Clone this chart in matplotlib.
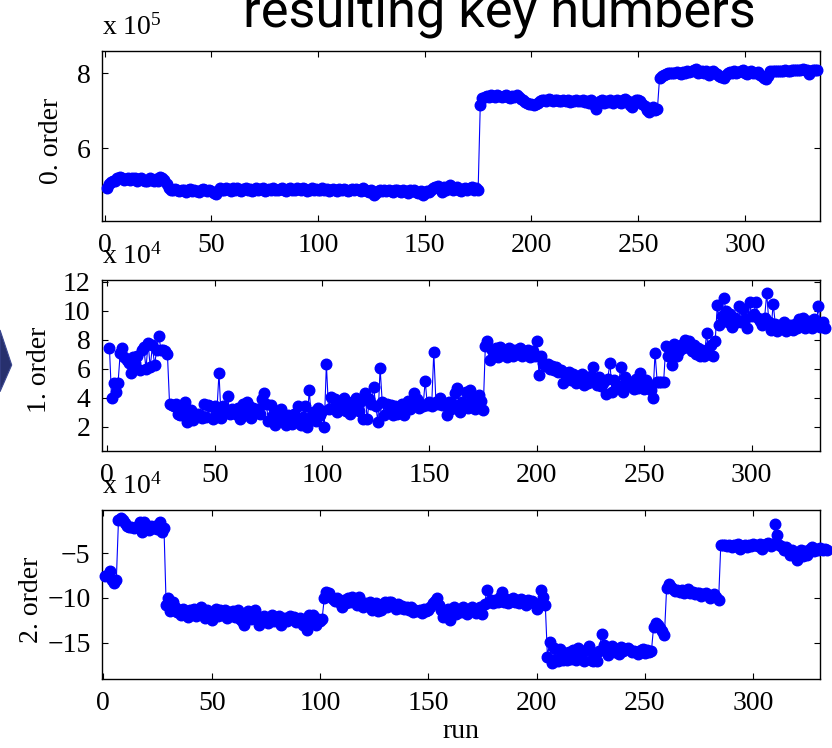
import matplotlib
matplotlib.use('Agg')
import matplotlib.pyplot as plt
import numpy as np
from matplotlib.patches import Polygon
from matplotlib import font_manager
from matplotlib.font_manager import FontProperties
from matplotlib.textpath import TextPath

# values (units: 1e5 for order 0, 1e4 for orders 1 and 2)
order0 = [
    4.93, 5.05, 5.10, 5.12, 5.14, 5.22, 5.24, 5.22, 5.16, 5.18,
    5.22, 5.16, 5.20, 5.22, 5.12, 5.18, 5.20, 5.16, 5.14, 5.12,
    5.20, 5.16, 5.14, 5.18, 5.12, 5.24, 5.20, 5.15, 5.05, 4.93,
    4.90, 4.88, 4.91, 4.89, 4.86, 4.90, 4.88, 4.84, 4.89, 4.91,
    4.86, 4.90, 4.87, 4.84, 4.90, 4.92, 4.88, 4.86, 4.90, 4.85,
    4.82, 4.79, 4.86, 4.93, 4.90, 4.88, 4.94, 4.91, 4.87, 4.93,
    4.90, 4.94, 4.88, 4.86, 4.91, 4.94, 4.89, 4.92, 4.86, 4.90,
    4.93, 4.88, 4.91, 4.95, 4.87, 4.90, 4.92, 4.89, 4.94, 4.90,
    4.88, 4.92, 4.95, 4.90, 4.87, 4.91, 4.94, 4.90, 4.88, 4.93,
    4.92, 4.89, 4.94, 4.91, 4.87, 4.90, 4.93, 4.89, 4.91, 4.88,
    4.90, 4.93, 4.88, 4.91, 4.86, 4.90, 4.92, 4.89, 4.87, 4.91,
    4.88, 4.92, 4.90, 4.86, 4.89, 4.91, 4.88, 4.92, 4.90, 4.87,
    4.93, 4.89, 4.86, 4.84, 4.88, 4.75, 4.82, 4.87, 4.90, 4.86,
    4.88, 4.85, 4.89, 4.87, 4.84, 4.88, 4.90, 4.86, 4.83, 4.89,
    4.86, 4.82, 4.88, 4.85, 4.90, 4.84, 4.80, 4.86, 4.76, 4.82,
    4.86, 4.84, 4.90, 4.94, 4.98, 5.00, 4.92, 4.84, 4.96, 4.90,
    4.98, 5.02, 4.88, 4.94, 4.97, 4.90, 4.86, 4.92, 4.95, 4.90,
    4.94, 4.96, 4.90, 4.95, 4.89, 7.16, 7.34, 7.38, 7.40, 7.38,
    7.42, 7.40, 7.38, 7.41, 7.39, 7.36, 7.40, 7.42, 7.38, 7.35,
    7.40, 7.38, 7.41, 7.37, 7.32, 7.28, 7.24, 7.20, 7.17, 7.18,
    7.16, 7.18, 7.22, 7.25, 7.28, 7.30, 7.26, 7.31, 7.29, 7.25,
    7.28, 7.30, 7.27, 7.26, 7.29, 7.25, 7.28, 7.24, 7.27, 7.26,
    7.29, 7.25, 7.27, 7.30, 7.24, 7.26, 7.22, 7.28, 7.18, 7.06,
    7.22, 7.26, 7.30, 7.20, 7.27, 7.24, 7.28, 7.22, 7.26, 7.30,
    7.24, 7.20, 7.28, 7.31, 7.26, 7.15, 7.10, 7.22, 7.30, 7.28,
    7.25, 7.18, 7.14, 7.02, 6.96, 7.06, 7.10, 7.02, 7.04, 7.87,
    7.92, 7.96, 7.99, 8.00, 8.01, 8.00, 8.02, 8.03, 8.00, 7.98,
    8.04, 8.02, 8.05, 8.03, 8.06, 8.10, 8.12, 8.02, 8.04, 8.06,
    8.00, 8.05, 7.96, 8.03, 8.06, 8.02, 7.98, 7.94, 7.90, 7.88,
    7.96, 8.00, 8.03, 8.02, 8.05, 8.00, 8.04, 8.06, 8.10, 8.02,
    7.98, 8.04, 8.06, 8.02, 8.00, 8.03, 7.96, 7.92, 7.88, 7.84,
    7.94, 8.05, 8.06, 8.05, 8.07, 8.06, 8.05, 8.06, 8.08, 8.07,
    8.06, 8.09, 8.10, 8.08, 8.10, 8.09, 8.11, 8.08, 8.10, 7.97,
    8.06, 8.10, 8.09, 8.08,
]

order1 = [
    7.45, 3.95, 5.00, 4.40, 5.00, 7.05, 7.45, 6.80, 6.60, 6.40,
    5.70, 6.80, 6.40, 6.90, 5.90, 7.30, 7.50, 6.00, 7.75, 6.10,
    7.60, 6.25, 7.30, 8.25, 7.30, 7.30, 7.20, 7.00, 3.55, 3.50,
    3.40, 3.60, 2.90, 2.80, 3.15, 3.70, 2.35, 2.70, 3.15, 2.45,
    2.80, 2.90, 2.80, 2.60, 3.55, 2.70, 3.50, 3.40, 2.50, 3.40,
    3.00, 5.70, 2.60, 3.40, 3.20, 4.15, 2.90, 3.20, 3.00, 2.90,
    3.30, 2.50, 3.60, 2.80, 3.70, 3.40, 2.60, 3.30, 3.00, 3.20,
    2.90, 3.90, 4.30, 3.60, 2.40, 3.50, 2.80, 2.10, 3.10, 2.50,
    3.20, 2.60, 2.10, 2.80, 2.50, 2.20, 2.90, 2.60, 3.40, 2.10,
    2.70, 3.45, 2.00, 4.55, 2.60, 3.00, 2.40, 3.30, 2.80, 3.10,
    2.00, 6.30, 3.20, 4.05, 3.30, 3.90, 3.00, 3.60, 3.20, 4.00,
    3.10, 3.50, 2.90, 3.70, 3.30, 4.00, 3.10, 3.80, 2.50, 4.35,
    2.50, 3.90, 3.60, 4.75, 3.40, 2.35, 6.05, 3.70, 2.80, 3.60,
    3.00, 3.50, 2.80, 3.40, 2.90, 3.20, 3.60, 2.80, 3.50, 3.80,
    3.20, 3.60, 4.30, 3.90, 3.30, 3.60, 3.40, 5.15, 3.50, 3.70,
    3.40, 7.15, 3.70, 3.60, 4.00, 3.50, 3.60, 2.80, 3.70, 3.20,
    3.60, 4.30, 4.70, 3.00, 3.70, 3.40, 4.40, 3.30, 4.50, 3.90,
    3.20, 3.60, 4.20, 3.80, 3.15, 7.55, 7.90, 6.60, 7.30, 6.90,
    7.40, 6.80, 7.50, 7.00, 7.30, 6.80, 7.40, 7.10, 6.90, 7.30,
    7.00, 7.40, 6.90, 7.20, 7.00, 7.30, 6.80, 7.20, 6.90, 7.90,
    5.55, 6.90, 6.40, 6.20, 6.30, 6.00, 6.20, 5.90, 6.10, 5.80,
    5.90, 5.00, 5.70, 5.40, 5.80, 5.20, 5.60, 5.00, 5.50, 5.10,
    5.60, 4.90, 5.40, 5.00, 5.50, 6.15, 5.30, 4.90, 5.40, 4.80,
    5.00, 4.25, 5.30, 6.40, 4.40, 5.20, 4.70, 4.80, 6.15, 4.40,
    5.40, 5.00, 4.80, 5.10, 4.60, 5.30, 4.70, 5.70, 5.00, 4.60,
    5.20, 4.80, 4.50, 3.95, 7.10, 5.10, 5.10, 5.10, 5.10, 7.55,
    6.85, 7.40, 6.25, 7.70, 6.85, 7.20, 7.60, 7.40, 8.00, 7.50,
    7.90, 7.20, 7.60, 7.00, 7.40, 6.90, 7.30, 6.85, 8.45, 7.00,
    7.60, 6.90, 7.90, 10.40, 9.00, 9.60, 10.85, 10.00, 9.20, 9.80,
    8.90, 9.50, 9.20, 10.30, 9.20, 10.10, 9.40, 8.80, 10.60, 9.60,
    9.80, 10.60, 9.50, 9.30, 9.00, 9.50, 11.20, 9.20, 8.70, 10.45,
    9.10, 8.60, 9.00, 8.80, 9.20, 8.60, 8.90, 9.00, 8.70, 9.10,
    8.80, 9.40, 9.00, 9.50, 8.80, 9.30, 9.00, 8.80, 9.40, 9.00,
    10.30, 8.90, 9.20, 8.80,
]

order2 = [
    -7.5, -7.4, -7.0, -8.0, -8.35, -8.0, -1.27, -1.1, -1.27, -1.6,
    -2.0, -2.1, -2.05, -2.15, -2.1, -2.0, -1.45, -2.6, -1.5, -2.0,
    -2.4, -1.9, -2.2, -2.0, -2.3, -1.5, -2.6, -2.2, -10.8, -10.0,
    -11.5, -10.4, -11.0, -11.6, -11.3, -11.9, -11.2, -11.6, -12.1, -11.4,
    -11.8, -11.2, -12.0, -11.5, -11.0, -11.8, -12.2, -11.4, -11.7, -12.5,
    -11.8, -11.2, -12.0, -11.4, -11.9, -11.3, -12.2, -11.6, -11.9, -11.5,
    -12.1, -11.4, -12.3, -12.6, -13.0, -12.2, -11.5, -12.4, -11.9, -11.3,
    -12.0, -13.0, -12.5, -12.0, -12.4, -12.8, -12.2, -11.9, -12.6, -12.2,
    -12.0, -13.0, -12.5, -12.2, -12.6, -12.0, -12.4, -12.1, -12.7, -12.3,
    -12.2, -13.0, -12.4, -13.6, -11.9, -12.5, -11.9, -13.0, -12.4, -12.6,
    -12.3, -10.0, -9.3, -9.5, -9.85, -10.1, -10.3, -10.0, -10.4, -11.0,
    -10.2, -10.6, -10.0, -10.5, -9.9, -10.3, -10.8, -9.9, -10.4, -11.0,
    -10.6, -10.9, -10.4, -11.3, -11.0, -10.6, -11.5, -11.3, -10.7, -10.4,
    -11.0, -10.5, -10.4, -10.9, -11.2, -10.7, -11.1, -10.9, -11.2, -11.0,
    -11.3, -11.0, -11.6, -11.3, -11.5, -11.4, -11.7, -11.2, -11.5, -11.3,
    -11.0, -10.6, -10.3, -10.0, -10.8, -11.4, -12.1, -11.6, -11.2, -12.5,
    -11.5, -11.0, -11.8, -11.3, -11.6, -11.0, -11.4, -11.8, -11.2, -11.0,
    -11.4, -11.7, -11.3, -11.0, -11.8, -10.7, -9.1, -10.5, -10.2, -10.6,
    -10.2, -10.4, -9.9, -9.3, -10.5, -10.1, -10.6, -10.2, -10.0, -10.4,
    -10.2, -10.6, -10.1, -10.3, -10.8, -10.2, -10.5, -10.3, -10.6, -11.2,
    -10.7, -9.1, -9.9, -10.8, -16.6, -14.9, -17.3, -15.6, -16.8, -17.0,
    -15.7, -16.9, -16.2, -16.9, -16.0, -16.8, -15.8, -16.9, -15.6, -16.6,
    -16.0, -17.1, -15.8, -15.4, -16.9, -17.1, -16.4, -17.0, -15.9, -14.0,
    -15.3, -15.8, -16.4, -15.6, -15.4, -16.1, -15.7, -16.3, -15.5, -15.9,
    -15.7, -15.6, -15.8, -16.0, -15.9, -16.1, -16.3, -15.8, -15.7, -16.2,
    -15.8, -16.0, -15.9, -13.2, -12.8, -13.0, -13.4, -13.7, -14.1, -8.9,
    -8.4, -8.8, -9.0, -9.2, -9.1, -9.3, -9.1, -9.4, -9.2, -9.0,
    -9.5, -9.3, -9.6, -9.4, -9.5, -9.8, -9.6, -9.4, -9.7, -10.0,
    -9.8, -9.6, -9.9, -10.2, -4.1, -4.1, -4.1, -4.2, -4.05, -4.3,
    -4.1, -4.2, -4.0, -4.5, -4.2, -4.1, -4.3, -4.1, -4.2, -4.0,
    -4.1, -4.2, -4.0, -4.5, -4.1, -4.0, -3.9, -4.2, -4.0, -1.7,
    -3.0, -4.1, -4.2, -4.6, -4.3, -4.8, -5.2, -4.6, -5.0, -5.75,
    -4.9, -4.6, -5.3, -4.7, -5.2, -4.5, -4.3, -4.7, -4.5, -4.6,
    -4.4, -4.6, -4.5, -4.6,
]

runs = np.arange(1, len(order0) + 1)
xticks = [0, 50, 100, 150, 200, 250, 300]

W, H = 832, 748


def fx(px):
    return px / W


def fy(py):
    return 1 - py / H


plt.rcParams['font.family'] = ['Liberation Serif', 'DejaVu Serif']
plt.rcParams['mathtext.fontset'] = 'custom'
plt.rcParams['mathtext.rm'] = 'Liberation Serif'

fig = plt.figure(figsize=(8.32, 7.48), dpi=100)

# (data, box px (left, top, right, bottom), xlim, ylim, yticks, exponent, ylabel, label x px, label dy)
panels = [
    (order0, (101.7, 50.7, 820, 220.7), (-1.4, 335.2), (4.069, 8.603), [6, 8], '5', '0. order', 52, 5),
    (order1, (101.7, 280.0, 820, 450.7), (-2.6, 331.8), (0.345, 12.117), [2, 4, 6, 8, 10, 12], '4', '1. order', 40, 4),
    (order2, (101.7, 510.0, 820, 679.3), (-0.75, 330.8), (-19.1, -0.16), [-15, -10, -5], '4', '2. order', 31, 5),
]

for vals, (l, t, r, b), xl, yl, yt, expo, lab, labx, dy in panels:
    ax = fig.add_axes([fx(l), fy(b), (r - l) / W, (b - t) / H])
    ax.plot(runs, vals, '-o', color='#0000ff', lw=0.8, ms=7.6, mec='#0000ff', clip_on=False, zorder=3)
    ax.set_xlim(*xl)
    ax.set_ylim(*yl)
    ax.set_xticks(xticks)
    ax.set_yticks(yt)
    ax.tick_params(direction='in', top=True, right=True, length=4, width=0.8, labelsize=20)
    ax.tick_params(axis='x', pad=8.5)
    ax.tick_params(axis='y', pad=8)
    for s in ax.spines.values():
        s.set_linewidth(1.0)
    fig.text(fx(101.7), fy(t - 16.5), r'x $\mathregular{10^{' + expo + '}}$', ha='left', va='baseline', fontsize=20)
    fig.text(fx(labx), fy((t + b) / 2 + dy), lab, rotation=90, ha='center', va='center', fontsize=20)

fig.text(fx(461), fy(738), 'run', ha='center', va='baseline', fontsize=20)

# slide arrow, partly cut at the left border
arrow = Polygon([(fx(0), fy(330)), (fx(11.7), fy(365)), (fx(0), fy(391.7))],
                closed=True, transform=fig.transFigure, fc='#27306d', ec='#3b4790', lw=0.8)
fig.add_artist(arrow)

# title: pick the installed sans family that gives the tallest letters at the reference width
title_txt = 'resulting key numbers'
names = {f.name for f in font_manager.fontManager.ttflist}
best = None
for fam in ['Liberation Sans Narrow', 'Lato', 'Roboto', 'Liberation Sans', 'Open Sans', 'Noto Sans', 'DejaVu Sans']:
    if fam not in names:
        continue
    fp = FontProperties(family=fam)
    w = TextPath((0, 0), title_txt, size=100, prop=fp).get_extents().width
    xh = TextPath((0, 0), 'x', size=100, prop=fp).get_extents().height
    size_px = 100 * 512 / w
    score = xh * size_px / 100
    if best is None or score > best[1]:
        best = (fam, score)
tfam = best[0]
title = fig.text(fx(499), fy(27), title_txt, ha='center', va='baseline',
                 fontsize=40, family=tfam)
fig.canvas.draw()
wpx = title.get_window_extent().width
title.set_fontsize(40 * 512 / wpx)

fig.savefig('out.png', dpi=100)
